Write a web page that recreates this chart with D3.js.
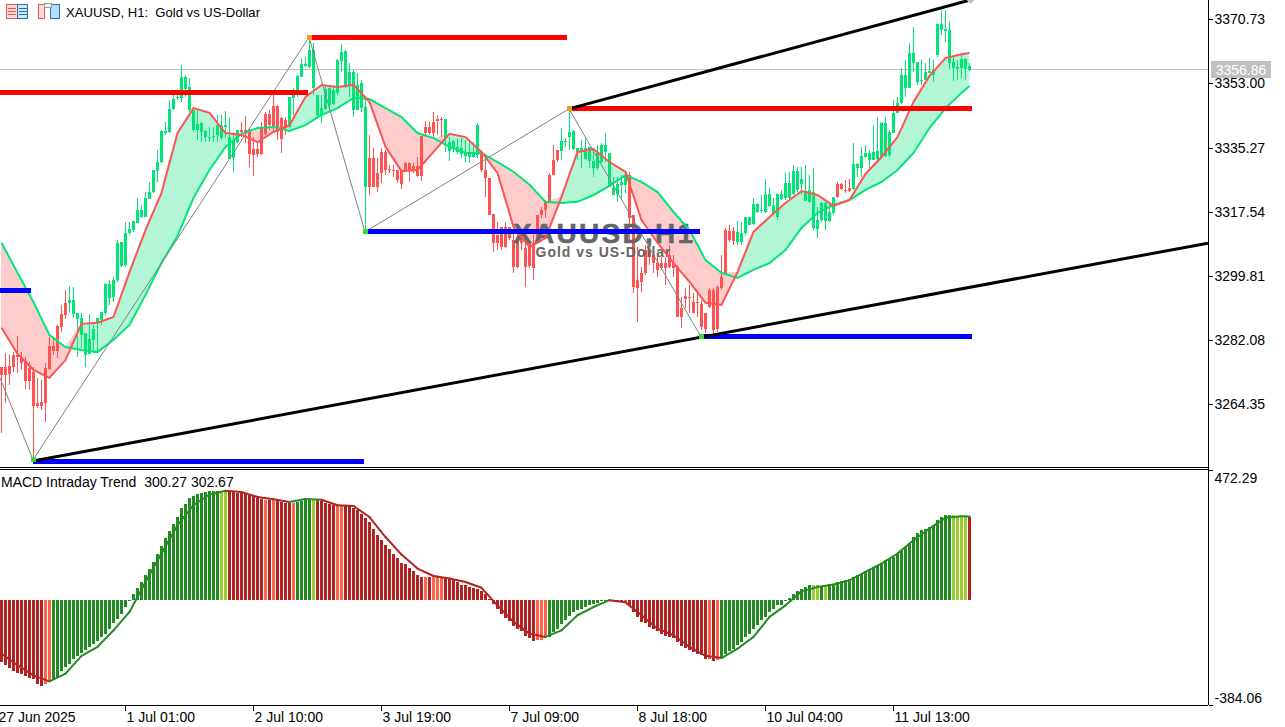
<!DOCTYPE html>
<html><head><meta charset="utf-8">
<script src="https://cdn.jsdelivr.net/npm/d3@7"></script>
<style>html,body{margin:0;padding:0;background:#fff;overflow:hidden}svg{display:block}text{font-family:"Liberation Sans",Arial,sans-serif}</style>
</head><body><svg id="c" width="1285" height="727"></svg>
<script>
const symbolTitle = "XAUUSD, H1:  Gold vs US-Dollar";
const watermark = "XAUUSD,H1";
const watermarkSub = "Gold vs US-Dollar";
const macdTitle = "MACD Intraday Trend  300.27 302.67";
const lastPrice = 3356.86;
const priceTicks = [3370.73,3353.00,3335.27,3317.54,3299.81,3282.08,3264.35];
const macdTicks = [472.29,-384.06];
const timeTickBars = [-1,31,63,95,127,159,191,223];
const timeTickLabels = ["27 Jun 2025","1 Jul 01:00","2 Jul 10:00","3 Jul 19:00","7 Jul 09:00","8 Jul 18:00","10 Jul 04:00","11 Jul 13:00"];

const bodyHigh = [3274.7,3274.7,3275.0,3278.0,3278.0,3277.5,3276.3,3274.4,3273.3,3264.8,3265.0,3274.4,3280.5,3280.5,3286.0,3289.3,3292.4,3293.2,3293.2,3289.6,3288.2,3284.1,3282.4,3285.2,3288.2,3289.9,3297.6,3297.6,3298.7,3309.0,3309.2,3311.7,3312.8,3315.0,3318.1,3318.1,3321.4,3323.0,3329.1,3331.3,3339.9,3339.9,3345.9,3348.7,3349.3,3354.8,3354.8,3352.0,3345.7,3341.8,3342.1,3339.9,3338.2,3338.5,3341.5,3341.5,3341.5,3338.2,3337.4,3340.2,3340.2,3340.2,3340.2,3334.9,3334.9,3340.7,3344.6,3344.6,3346.8,3346.8,3343.5,3342.9,3349.3,3349.8,3355.1,3358.4,3358.4,3362.2,3362.2,3349.8,3346.2,3351.5,3351.7,3351.2,3359.5,3361.7,3362.0,3356.2,3356.2,3352.6,3353.1,3346.5,3332.4,3332.4,3328.3,3334.1,3334.1,3329.4,3329.1,3329.1,3329.1,3331.0,3331.0,3330.2,3330.2,3338.5,3341.0,3341.0,3342.4,3343.2,3343.2,3343.2,3336.8,3337.1,3335.5,3335.2,3333.8,3333.8,3333.8,3341.5,3333.8,3329.1,3326.9,3317.0,3311.2,3313.4,3313.4,3313.4,3309.8,3310.6,3311.7,3307.6,3309.0,3309.0,3316.7,3318.1,3320.3,3327.7,3331.9,3334.6,3337.1,3337.1,3339.6,3339.9,3335.2,3335.2,3335.2,3335.5,3331.6,3333.8,3336.0,3336.0,3333.8,3324.1,3325.2,3325.8,3327.7,3327.7,3316.7,3298.7,3300.7,3307.0,3307.0,3305.6,3303.4,3303.4,3303.4,3305.6,3303.4,3302.3,3291.0,3294.3,3294.0,3292.6,3292.6,3292.1,3289.6,3296.0,3296.0,3296.8,3299.5,3312.5,3312.3,3312.3,3312.0,3311.7,3316.1,3316.1,3319.7,3319.7,3318.1,3322.5,3322.5,3319.5,3322.5,3322.5,3325.5,3325.5,3328.8,3328.8,3326.6,3323.3,3323.6,3323.0,3315.3,3320.0,3320.0,3317.5,3321.7,3325.2,3325.2,3323.6,3324.1,3330.8,3330.8,3333.0,3333.8,3333.8,3334.1,3334.4,3342.1,3342.1,3339.6,3344.9,3347.6,3355.3,3355.3,3361.4,3361.4,3358.9,3354.0,3356.2,3356.5,3356.7,3369.4,3369.4,3368.0,3367.8,3358.9,3357.6,3359.8,3359.8,3357.8];
const bodyLow = [3272.5,3272.5,3272.8,3274.7,3277.5,3275.8,3270.8,3270.8,3263.9,3263.9,3263.9,3264.8,3274.1,3279.1,3279.1,3285.7,3289.1,3292.4,3289.3,3288.0,3283.5,3278.0,3278.3,3282.2,3286.9,3287.7,3289.6,3293.8,3294.0,3298.7,3302.6,3302.9,3311.7,3312.5,3314.5,3316.1,3316.1,3321.1,3323.0,3328.8,3331.3,3339.3,3339.6,3345.9,3349.0,3349.0,3351.5,3345.7,3340.2,3340.2,3339.6,3338.2,3337.9,3338.2,3338.8,3337.9,3341.0,3332.2,3332.4,3336.8,3339.6,3339.6,3333.5,3333.2,3333.5,3333.5,3339.1,3341.5,3341.3,3339.6,3337.7,3340.7,3341.0,3349.0,3349.8,3354.8,3357.8,3357.6,3351.7,3344.3,3344.3,3345.9,3347.1,3347.3,3350.4,3359.2,3352.0,3352.6,3345.7,3345.7,3346.2,3324.4,3324.4,3324.4,3324.4,3328.3,3329.1,3329.1,3328.8,3326.3,3325.2,3328.8,3329.1,3329.1,3327.5,3327.5,3339.3,3339.3,3339.3,3342.6,3342.9,3337.9,3334.3,3334.9,3334.1,3333.5,3333.0,3332.7,3332.7,3333.2,3329.1,3326.9,3316.7,3309.0,3309.0,3307.8,3307.8,3310.3,3302.3,3302.3,3309.0,3302.3,3302.6,3302.0,3309.0,3316.7,3318.1,3320.3,3327.7,3331.9,3334.3,3336.8,3338.2,3334.9,3334.1,3334.6,3332.2,3331.6,3329.7,3329.7,3331.3,3334.1,3324.4,3322.2,3322.5,3325.0,3325.0,3315.9,3296.8,3296.5,3298.2,3300.7,3305.1,3303.4,3301.5,3302.0,3302.0,3302.3,3302.0,3288.5,3288.5,3293.5,3293.8,3289.6,3292.4,3285.7,3285.2,3291.3,3284.9,3285.2,3296.5,3300.4,3309.8,3309.5,3309.2,3309.2,3311.7,3313.9,3314.2,3317.5,3317.8,3317.5,3319.2,3317.2,3316.1,3321.1,3321.4,3321.4,3322.5,3323.6,3325.2,3320.5,3320.3,3313.1,3312.8,3315.3,3315.0,3315.0,3317.2,3321.7,3323.9,3323.3,3323.3,3323.9,3329.7,3329.7,3332.7,3331.9,3331.9,3332.2,3332.7,3333.0,3333.2,3339.3,3344.9,3347.6,3351.7,3351.7,3358.7,3353.4,3353.7,3354.0,3355.9,3355.3,3360.9,3367.8,3367.5,3358.7,3357.3,3357.0,3357.3,3357.0,3356.86];
const highs = [3274.7,3278.6,3278.0,3278.8,3283.3,3278.8,3277.5,3276.1,3274.7,3271.7,3271.1,3275.8,3283.0,3283.0,3286.3,3291.8,3296.0,3297.1,3296.8,3289.6,3289.6,3284.1,3289.3,3286.9,3288.2,3289.9,3297.9,3298.7,3299.5,3309.8,3309.2,3314.7,3314.7,3315.0,3321.4,3319.5,3323.0,3325.8,3329.1,3334.6,3340.2,3342.4,3348.4,3349.8,3349.8,3358.1,3355.3,3354.5,3345.7,3345.7,3342.4,3340.2,3341.0,3341.0,3344.3,3344.3,3345.4,3343.5,3339.6,3340.2,3342.4,3344.0,3340.7,3338.2,3336.8,3342.4,3345.1,3345.7,3350.4,3347.1,3343.7,3343.7,3349.3,3351.7,3355.3,3360.0,3360.3,3365.6,3364.2,3349.8,3349.8,3352.6,3352.6,3352.0,3359.8,3363.9,3362.2,3358.7,3356.7,3355.9,3354.0,3349.3,3338.8,3335.2,3332.4,3335.2,3334.6,3330.5,3330.5,3329.1,3329.1,3331.3,3331.3,3331.0,3332.7,3338.5,3342.6,3342.4,3345.1,3344.3,3343.7,3343.2,3338.2,3337.4,3338.0,3338.0,3337.4,3336.8,3336.8,3342.1,3334.1,3332.7,3326.9,3317.0,3314.7,3313.4,3314.7,3313.4,3312.5,3312.5,3311.7,3309.8,3309.8,3312.5,3316.7,3318.9,3320.8,3328.3,3336.0,3334.6,3340.7,3337.9,3345.7,3340.2,3335.2,3337.4,3338.2,3335.5,3334.6,3336.0,3336.6,3339.3,3333.8,3327.2,3327.2,3327.7,3328.6,3328.6,3316.7,3307.8,3302.3,3308.4,3309.0,3307.8,3306.2,3305.1,3305.1,3308.4,3305.6,3302.9,3294.0,3296.5,3297.3,3295.1,3296.0,3293.2,3289.6,3296.5,3296.5,3297.3,3305.6,3313.1,3313.9,3313.4,3315.0,3314.7,3316.1,3316.1,3321.4,3320.0,3322.2,3326.6,3324.1,3321.4,3322.8,3323.6,3328.3,3328.6,3330.5,3330.0,3330.0,3330.5,3327.7,3329.7,3318.9,3320.3,3320.3,3320.0,3321.7,3325.8,3325.5,3326.3,3326.6,3336.6,3331.0,3335.5,3336.0,3334.6,3341.5,3343.7,3342.4,3343.7,3340.2,3348.4,3349.3,3357.3,3359.5,3364.2,3368.6,3358.9,3359.5,3358.7,3360.0,3359.5,3369.7,3373.3,3373.3,3370.3,3360.3,3359.5,3360.9,3360.0,3358.7];
const lows = [3256.5,3264.8,3269.7,3273.3,3273.1,3273.9,3268.6,3268.3,3249.0,3263.4,3262.8,3259.5,3273.9,3278.0,3277.2,3284.4,3288.0,3289.6,3288.2,3277.5,3280.0,3274.7,3278.3,3278.6,3278.6,3286.3,3289.1,3291.8,3292.6,3298.2,3302.3,3302.3,3311.2,3312.0,3314.5,3315.9,3316.1,3321.1,3322.8,3325.8,3331.0,3338.8,3339.3,3345.7,3348.4,3347.9,3349.3,3345.1,3339.6,3337.4,3336.8,3336.8,3336.8,3336.8,3336.8,3337.4,3337.9,3332.2,3328.6,3336.6,3338.2,3336.6,3329.9,3327.5,3332.7,3333.2,3338.8,3340.2,3339.6,3337.4,3333.8,3338.8,3340.7,3344.3,3349.3,3354.8,3357.6,3357.3,3349.8,3343.5,3342.1,3345.7,3345.7,3347.1,3349.8,3356.2,3351.7,3349.3,3343.7,3345.7,3345.1,3312.5,3322.2,3324.4,3323.0,3325.5,3327.7,3328.3,3327.2,3325.5,3323.9,3328.6,3325.8,3328.3,3327.2,3326.1,3338.2,3338.8,3338.2,3338.8,3338.2,3334.1,3331.6,3334.1,3333.5,3332.4,3331.3,3331.0,3332.4,3332.4,3328.6,3321.7,3316.7,3306.5,3307.0,3307.0,3307.6,3309.8,3300.7,3302.0,3307.0,3296.8,3302.0,3298.7,3309.0,3315.9,3315.9,3320.0,3327.7,3331.3,3331.9,3335.5,3334.6,3334.6,3331.9,3329.7,3331.9,3329.7,3327.2,3329.1,3331.0,3331.3,3324.4,3322.2,3320.3,3320.8,3322.8,3309.8,3295.1,3287.1,3295.4,3300.1,3302.9,3300.7,3299.5,3301.5,3297.3,3302.0,3299.5,3288.5,3285.5,3291.0,3289.6,3289.6,3288.5,3284.9,3284.1,3291.0,3284.1,3284.4,3296.0,3300.1,3309.2,3308.4,3308.4,3308.4,3311.2,3313.9,3313.9,3317.2,3317.2,3317.2,3318.9,3316.7,3315.3,3320.8,3320.8,3320.8,3322.2,3323.0,3322.2,3320.5,3320.0,3312.5,3310.3,3314.7,3312.5,3314.7,3316.7,3321.4,3323.6,3322.8,3323.0,3323.6,3327.2,3327.2,3332.4,3329.7,3331.9,3331.0,3332.7,3332.7,3332.7,3339.3,3344.9,3347.3,3349.3,3351.7,3356.2,3352.6,3352.6,3354.0,3355.9,3353.4,3360.3,3366.4,3364.5,3357.0,3353.7,3354.0,3354.5,3354.0,3356.5];
const candleTrendRuns = [["R",17],["G",43],["R",12],["G",20],["R",19],["G",9],["R",20],["G",17],["R",27],["G",25],["R",4],["G",30]];

const maBars = [0,4,8,12,16,20,24,28,32,36,40,44,48,52,56,60,64,68,72,76,80,84,88,92,96,100,104,108,112,116,120,124,128,132,136,140,144,148,152,156,160,164,168,172,176,180,184,188,192,196,200,204,208,212,216,220,224,228,232,236,240,242];
const fastMA = [3285.5,3278.3,3273.9,3271.7,3276.6,3286.6,3286.9,3288.5,3300.9,3312.5,3322.8,3339.3,3346.2,3344.9,3339.3,3338.8,3336.8,3339.6,3341.5,3349.3,3352.6,3352.0,3352.6,3347.9,3335.5,3328.8,3329.1,3334.1,3339.1,3338.2,3334.1,3328.3,3313.4,3307.8,3310.3,3321.7,3334.1,3334.9,3331.3,3328.6,3315.3,3309.0,3303.4,3298.2,3292.4,3291.8,3300.9,3312.0,3316.1,3320.0,3323.3,3322.2,3319.2,3320.8,3328.0,3332.7,3338.2,3347.9,3355.1,3360.0,3361.1,3361.4];
const slowMA = [3309.0,3300.7,3292.6,3283.5,3280.2,3279.4,3278.8,3282.2,3286.3,3294.6,3303.4,3310.9,3321.4,3329.1,3335.5,3339.1,3340.7,3341.0,3339.9,3341.5,3344.3,3346.2,3349.0,3348.7,3346.2,3343.7,3339.3,3337.9,3335.5,3333.8,3333.8,3331.3,3328.6,3325.0,3320.3,3320.0,3320.3,3322.2,3324.7,3327.7,3325.8,3323.0,3317.5,3312.5,3304.2,3300.7,3299.3,3301.5,3303.4,3307.0,3313.1,3317.2,3319.5,3320.8,3323.6,3325.8,3329.1,3333.8,3340.7,3346.2,3350.4,3352.3];

const zigzagBars = [-0.25,8,77,91,142,175];
const zigzagPrices = [3271.7,3249.0,3365.8,3312.0,3346.0,3283.0];
const redLevelStart = [-0.25,77,142];
const redLevelEnd = [76.75,141.5,242.75];
const redLevelPrice = [3350.4,3365.8,3346.0];
const blueLevelStart = [-0.25,8,91,175];
const blueLevelEnd = [7.5,90.75,174.75,242.75];
const blueLevelPrice = [3295.7,3248.7,3312.0,3283.0];
const trendStartBar = [8,142];
const trendStartPrice = [3248.7,3346.0];
const trendEndBar = [301.75,242.25];
const trendEndPrice = [3308.9,3376.06];

const macdHist = [-227,-239,-251,-261,-266,-272,-279,-285,-288,-306,-315,-306,-302,-294,-284,-261,-245,-233,-217,-205,-193,-182,-172,-163,-152,-136,-124,-106,-87,-69,-51,-27,-2,22,44,64,91,111,137,165,194,225,249,277,301,332,350,370,378,384,390,392,395,396,396,395,395,395,394,390,389,386,380,377,370,368,364,362,362,358,356,352,352,352,356,358,364,368,368,362,358,353,350,346,341,341,344,341,335,328,311,299,281,259,237,216,200,186,168,152,135,128,115,103,91,83,83,83,83,83,83,83,77,70,64,55,52,46,44,38,30,22,4,-15,-33,-51,-67,-78,-96,-106,-115,-132,-140,-151,-148,-148,-136,-136,-118,-106,-90,-75,-60,-45,-39,-33,-27,-21,-17,-11,-6,-2,-1,-1,-6,-6,-11,-18,-45,-63,-81,-87,-100,-106,-114,-124,-132,-136,-140,-154,-169,-175,-185,-191,-197,-203,-215,-215,-224,-221,-213,-197,-187,-179,-166,-154,-136,-124,-106,-93,-75,-63,-45,-33,-21,-18,-2,7,22,30,40,46,52,52,52,46,52,56,58,64,67,70,74,83,89,95,103,111,119,125,134,143,147,155,168,176,192,208,228,241,253,259,265,273,289,301,307,310,310,305,305,305,300.27];
const macdColorRuns = [["R",11],["T",2],["G",42],["Y",2],["R",9],["T",1],["R",1],["T",1],["R",4],["T",1],["G",4],["Y",1],["R",5],["T",2],["R",19],["R",1],["T",1],["R",1],["T",3],["R",23],["T",3],["G",15],["Y",2],["R",2],["T",1],["R",20],["T",1],["R",1],["T",1],["G",23],["Y",2],["G",1],["Y",1],["G",31],["Y",4],["R",1]];
const signalBars = maBars;
const macdSignal = [-197,-239,-276,-298,-270,-205,-172,-112,-45,64,168,271,344,383,397,392,374,366,356,367,364,344,341,301,228,164,113,86,77,64,43,-21,-81,-124,-136,-112,-57,-27,-2,-10,-57,-106,-130,-172,-205,-213,-179,-136,-63,-21,30,46,55,70,101,131,168,216,259,298,304,302.67];

const C = {up:"#00e676",down:"#ff5252",mint:"#b2f5d7",pink:"#ffcccc",R:"#b22222",T:"#ff6347",G:"#228b22",Y:"#9acd32"};
const expand = runs => runs.flatMap(([k,n]) => Array(n).fill(k));
const candleTrend = expand(candleTrendRuns);
const macdColors = expand(macdColorRuns);

const svg = d3.select("#c");
const defs = svg.append("defs");
defs.append("clipPath").attr("id","pc").append("rect").attr("x",0).attr("y",0).attr("width",1208).attr("height",466);
const x = d3.scaleLinear().domain([0,1]).range([1,5]);
const y = d3.scaleLinear().domain([3370.73,3264.35]).range([19.3,404.4]);
const ym = d3.scaleLinear().domain([472.29,-384.06]).range([470,705]);

const plot = svg.append("g").attr("clip-path","url(#pc)").attr("shape-rendering","crispEdges");

// price line
plot.append("line").attr("x1",0).attr("x2",1208).attr("y1",y(lastPrice)).attr("y2",y(lastPrice)).attr("stroke","#c0c0c0");

// MA ribbon
const maData = maBars.map((b,i)=>({b,f:fastMA[i],s:slowMA[i]}));
const smooth = plot.append("g").attr("shape-rendering","auto");
smooth.append("path").attr("fill",C.mint).attr("d",d3.area().x(d=>x(d.b)).y0(d=>y(d.s)).y1(d=>y(Math.max(d.s,d.f)))(maData));
smooth.append("path").attr("fill",C.pink).attr("d",d3.area().x(d=>x(d.b)).y0(d=>y(d.f)).y1(d=>y(Math.max(d.s,d.f)))(maData));

// candles
const idx = d3.range(bodyHigh.length);
const candles = plot.append("g");
candles.selectAll("rect.w").data(idx).join("rect").attr("class","w")
  .attr("x",i=>x(i)).attr("width",1)
  .attr("y",i=>y(highs[i])).attr("height",i=>Math.max(1,y(lows[i])-y(highs[i])))
  .attr("fill",i=>candleTrend[i]==="G"?C.up:C.down);
candles.selectAll("rect.b").data(idx).join("rect").attr("class","b")
  .attr("x",i=>x(i)-1).attr("width",3)
  .attr("y",i=>y(bodyHigh[i])).attr("height",i=>Math.max(1,y(bodyLow[i])-y(bodyHigh[i])))
  .attr("fill",i=>candleTrend[i]==="G"?C.up:C.down);

// watermark
plot.append("text").attr("x",603).attr("y",243).attr("text-anchor","middle")
  .attr("font-size",28).attr("font-weight","bold").attr("fill","#666").attr("stroke","#666").attr("stroke-width",0.5)
  .attr("textLength",180).attr("lengthAdjust","spacing").text(watermark);
plot.append("text").attr("x",603).attr("y",257).attr("text-anchor","middle")
  .attr("font-size",14).attr("font-weight","bold").attr("fill","#666")
  .attr("textLength",135).attr("lengthAdjust","spacing").text(watermarkSub);

// MA lines
const lineF = d3.line().x(d=>x(d.b)+0.5);
const lines = plot.append("g").attr("shape-rendering","auto");
lines.append("path").attr("fill","none").attr("stroke",C.up).attr("stroke-width",2).attr("d",lineF.y(d=>y(d.s))(maData));
lines.append("path").attr("fill","none").attr("stroke",C.down).attr("stroke-width",2).attr("d",lineF.y(d=>y(d.f))(maData));

// zigzag
plot.append("path").attr("fill","none").attr("stroke","#808080").attr("stroke-width",1).attr("shape-rendering","auto")
  .attr("d",d3.line().x(d=>x(d[0])).y(d=>y(d[1]))(zigzagBars.map((b,i)=>[b,zigzagPrices[i]])));

// levels
plot.selectAll("rect.red").data(redLevelPrice).join("rect").attr("class","red")
  .attr("x",(d,i)=>x(redLevelStart[i])).attr("width",(d,i)=>x(redLevelEnd[i])-x(redLevelStart[i]))
  .attr("y",d=>y(d)-2.5).attr("height",5).attr("fill","#ff0000");
plot.selectAll("rect.blue").data(blueLevelPrice).join("rect").attr("class","blue")
  .attr("x",(d,i)=>x(blueLevelStart[i])).attr("width",(d,i)=>x(blueLevelEnd[i])-x(blueLevelStart[i]))
  .attr("y",d=>y(d)-2.5).attr("height",5).attr("fill","#0000ff");

// trend lines
plot.selectAll("line.t").data(trendStartBar).join("line").attr("class","t").attr("shape-rendering","auto")
  .attr("x1",d=>x(d)).attr("y1",(d,i)=>y(trendStartPrice[i]))
  .attr("x2",(d,i)=>x(trendEndBar[i])).attr("y2",(d,i)=>y(trendEndPrice[i]))
  .attr("stroke","#000").attr("stroke-width",3);
plot.append("path").attr("d","M970,-4L974,0L970,4L966,0Z").attr("fill","#c0c0c0");

// pivots
plot.selectAll("rect.p").data(zigzagBars.slice(1)).join("rect").attr("class","p")
  .attr("x",d=>x(d)-2).attr("width",5).attr("height",5)
  .attr("y",(d,i)=>y(zigzagPrices[i+1])-2.5)
  .attr("fill",(d,i)=>i%2===0?"#33dd33":"#f59a23");

// MACD histogram
const hist = svg.append("g").attr("shape-rendering","crispEdges");
hist.selectAll("rect").data(macdHist).join("rect")
  .attr("x",(d,i)=>x(i)-1).attr("width",3)
  .attr("y",d=>Math.min(ym(d),ym(0))).attr("height",d=>Math.max(1,Math.abs(ym(d)-ym(0))))
  .attr("fill",(d,i)=>C[macdColors[i]]);

// signal line
const sig = svg.append("g");
signalBars.slice(1).forEach((b,k)=>{
  const a = signalBars[k], mid = Math.round((a+b)/2);
  const key = macdColors[mid];
  sig.append("line").attr("x1",x(a)+0.5).attr("x2",x(b)+0.5).attr("y1",ym(macdSignal[k])).attr("y2",ym(macdSignal[k+1]))
    .attr("stroke",(key==="G"||key==="Y")?C.G:C.R).attr("stroke-width",2).attr("stroke-linecap","round");
});

// frame
const frame = svg.append("g").attr("shape-rendering","crispEdges").attr("stroke","#000");
frame.append("line").attr("x1",0).attr("x2",1208).attr("y1",467.5).attr("y2",467.5);
frame.append("line").attr("x1",0).attr("x2",1208).attr("y1",469.5).attr("y2",469.5);

// axes
function styleAxis(g){
  g.attr("shape-rendering","crispEdges");
  g.selectAll("text").attr("font-family",'"Liberation Sans",Arial,sans-serif').attr("font-size",14).attr("fill","#000");
}
const ax1 = svg.append("g").attr("transform","translate(1208.5,0)").call(
  d3.axisRight(y).tickValues(priceTicks).tickFormat(d3.format(".2f")).tickSize(4).tickPadding(2)).call(styleAxis);
ax1.select(".domain").attr("d","M0,0V466");
const ax2 = svg.append("g").attr("transform","translate(1208.5,0)").call(
  d3.axisRight(ym).tickValues(macdTicks).tickFormat(d3.format(".2f")).tickSize(4).tickPadding(2)).call(styleAxis);
ax2.select(".domain").attr("d","M0,466V705");
ax2.selectAll(".tick text").attr("dy","0.9em");
ax2.selectAll(".tick").filter(d=>d<0).select("text").attr("dy","-0.2em").text(d=>"-"+Math.abs(d).toFixed(2));
const ax3 = svg.append("g").attr("transform","translate(0,705.5)").call(
  d3.axisBottom(x).tickValues(timeTickBars).tickFormat((d,i)=>timeTickLabels[i]).tickSize(5).tickPadding(2)).call(styleAxis);
ax3.select(".domain").attr("d","M0,0H1208");
ax3.selectAll(".tick text").attr("text-anchor","start").attr("dx",1);

// last price label
svg.append("rect").attr("x",1211).attr("y",y(lastPrice)-8.5).attr("width",60).attr("height",17).attr("fill","#c0c0c0");
svg.append("text").attr("x",1241).attr("y",y(lastPrice)+5).attr("text-anchor","middle").attr("font-size",14).attr("fill","#fff").text(lastPrice.toFixed(2));

// titles
svg.append("text").attr("x",66).attr("y",17).attr("font-size",13.5).attr("fill","#000").style("white-space","pre")
  .attr("textLength",194).attr("lengthAdjust","spacingAndGlyphs").text(symbolTitle);
svg.append("text").attr("x",1).attr("y",487).attr("font-size",14).attr("fill","#000").style("white-space","pre").text(macdTitle);

// toolbar icons
const ic = svg.append("g").attr("shape-rendering","crispEdges");
ic.append("rect").attr("x",6.5).attr("y",4.5).attr("width",11).attr("height",14).attr("fill","#ffd9d5").attr("stroke","#e55a50");
ic.append("rect").attr("x",17.5).attr("y",4.5).attr("width",10).attr("height",14).attr("fill","#cfe7fb").attr("stroke","#2a70b0");
[8,11,14].forEach(v=>{
  ic.append("line").attr("x1",8).attr("x2",16).attr("y1",v+.5).attr("y2",v+.5).attr("stroke","#e55a50");
  ic.append("line").attr("x1",19).attr("x2",27).attr("y1",v+.5).attr("y2",v+.5).attr("stroke","#2a70b0");
});
ic.append("path").attr("d","M38.5,4.5H44.5V18.5H38.5Z").attr("fill","#ffd9d5").attr("stroke","#e55a50");
ic.append("path").attr("d","M50.5,4.5H59.5V18.5H50.5V10.5Z").attr("fill","#b8dcf8").attr("stroke","#2a70b0");
ic.append("rect").attr("x",44.5).attr("y",3.5).attr("width",7).attr("height",4).attr("fill","#eee").attr("stroke","#999");
</script></body></html>
